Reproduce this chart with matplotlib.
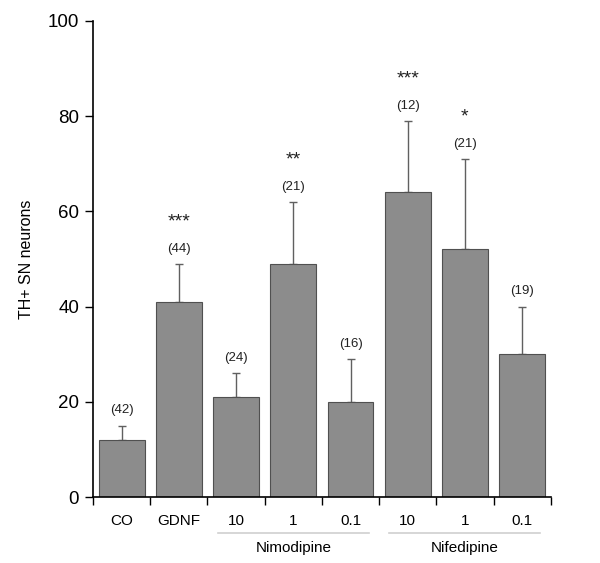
import matplotlib
matplotlib.use('Agg')
import matplotlib.pyplot as plt
import numpy as np

plt.rcParams['font.family'] = ['Liberation Sans', 'DejaVu Sans']

categories = ['CO', 'GDNF', '10', '1', '0.1', '10', '1', '0.1']
means = [12, 41, 21, 49, 20, 64, 52, 30]
errors = [3, 8, 5, 13, 9, 15, 19, 10]
n_labels = ['(42)', '(44)', '(24)', '(21)', '(16)', '(12)', '(21)', '(19)']
stars = ['', '***', '', '**', '', '***', '*', '']
groups = [('Nimodipine', 2, 4), ('Nifedipine', 5, 7)]

fig = plt.figure(figsize=(6, 5.63), dpi=100)
ax = fig.add_axes([0.155, 0.117, 0.763, 0.846])

x = np.arange(len(categories))
ax.bar(x, means, width=0.8, color='#8c8c8c', edgecolor='#505050', linewidth=0.8, zorder=2)
ax.errorbar(x, means, yerr=[np.zeros(len(x)), errors], fmt='none',
            ecolor='#606060', elinewidth=1, capsize=3, capthick=1, zorder=1)

for xi, m, e, n, s in zip(x, means, errors, n_labels, stars):
    top = m + e
    ax.text(xi, top + 3.2, n, ha='center', va='center', fontsize=9.5, color='#222222')
    if s:
        ax.text(xi, top + 8.8, s, ha='center', va='center', fontsize=14, color='#222222')

ax.set_xlim(-0.5, len(categories) - 0.5)
ax.set_ylim(0, 100)
ax.set_yticks([0, 20, 40, 60, 80, 100])
ax.tick_params(axis='y', labelsize=13.5, length=6, width=1, direction='out', pad=4)
ax.set_xticks(x)
ax.set_xticklabels(categories)
ax.set_xticks(np.arange(-0.5, len(categories)), minor=True)
ax.tick_params(axis='x', which='major', length=0, labelsize=11, pad=12)
ax.tick_params(axis='x', which='minor', length=6, width=1, direction='out')
ax.spines['top'].set_visible(False)
ax.spines['right'].set_visible(False)
ax.spines['left'].set_linewidth(1.2)
ax.spines['bottom'].set_linewidth(1.2)
ax.set_ylabel('TH+ SN neurons', fontsize=11.5, labelpad=10)

trans = ax.get_xaxis_transform()
for name, a, b in groups:
    ax.plot([a - 0.32, b + 0.32], [-0.076, -0.076], transform=trans, color='#d0d0d0',
            linewidth=1.2, clip_on=False)
    ax.text((a + b) / 2, -0.106, name, transform=trans, ha='center', va='center', fontsize=11)

fig.savefig('out.png', dpi=100)
